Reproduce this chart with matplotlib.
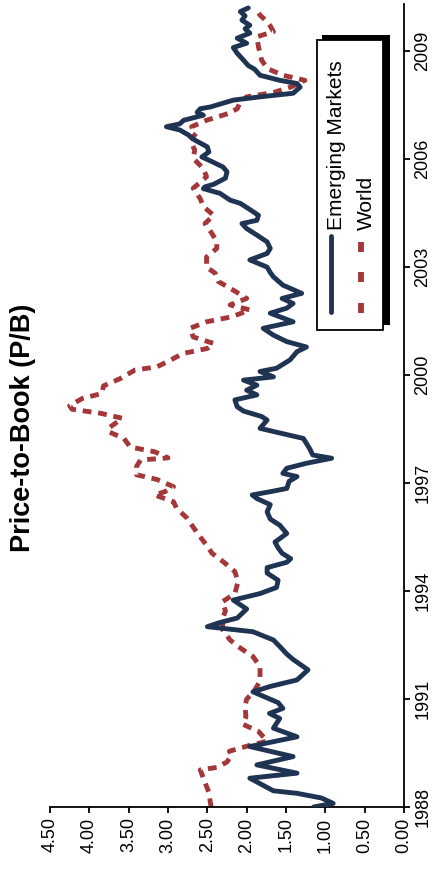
import matplotlib.pyplot as plt
from matplotlib.patches import Rectangle
from matplotlib.lines import Line2D

plt.rcParams['font.family'] = ['Liberation Sans', 'DejaVu Sans']

# Emerging Markets P/B (decimal year, value)
em_t = [1988.00, 1988.10, 1988.25, 1988.38, 1988.45, 1988.80, 1988.94, 1989.17, 1989.40, 1989.68,
        1989.95, 1990.19, 1990.46, 1990.60, 1990.74, 1990.90, 1991.20, 1991.35, 1991.53, 1991.81,
        1992.10, 1992.25, 1992.46, 1992.64, 1992.87, 1993.01, 1993.12, 1993.25, 1993.50, 1993.75,
        1993.93, 1994.10, 1994.30, 1994.50, 1994.65, 1994.80, 1994.90, 1995.05, 1995.20, 1995.36,
        1995.60, 1995.83, 1996.00, 1996.20, 1996.40, 1996.57, 1996.67, 1996.76, 1996.85, 1997.05,
        1997.18, 1997.27, 1997.41, 1997.55, 1997.69, 1997.78, 1997.96, 1998.24, 1998.52, 1998.75,
        1998.85, 1999.00, 1999.12, 1999.31, 1999.45, 1999.58, 1999.72, 1999.86, 1999.95, 2000.10,
        2000.19, 2000.42, 2000.65, 2000.78, 2000.93, 2001.11, 2001.30, 2001.48, 2001.72, 2001.86,
        2001.99, 2002.13, 2002.27, 2002.50, 2002.73, 2002.85, 2003.00, 2003.20, 2003.38, 2003.52,
        2003.70, 2003.89, 2004.07, 2004.21, 2004.30, 2004.44, 2004.60, 2004.77, 2004.86, 2005.05,
        2005.18, 2005.23, 2005.30, 2005.47, 2005.65, 2005.78, 2005.93, 2006.06, 2006.20, 2006.34,
        2006.53, 2006.67, 2006.81, 2006.90, 2006.98, 2007.08, 2007.22, 2007.30, 2007.40, 2007.45,
        2007.64, 2007.73, 2007.83, 2008.00, 2008.10, 2008.19, 2008.33, 2008.50, 2008.60, 2008.75,
        2008.94, 2009.10, 2009.22, 2009.36, 2009.50, 2009.62, 2009.72, 2009.86, 2009.98, 2010.10,
        2010.20]
em_v = [1.15, 0.90, 1.05, 1.36, 1.66, 1.96, 1.36, 1.87, 1.41, 1.96,
        1.36, 1.66, 1.58, 1.71, 1.54, 1.60, 1.92, 1.70, 1.36, 1.22,
        1.41, 1.49, 1.58, 1.66, 1.92, 2.50, 2.35, 2.12, 2.00, 2.17,
        1.83, 1.62, 1.60, 1.74, 1.74, 1.49, 1.44, 1.55, 1.60, 1.64,
        1.49, 1.58, 1.70, 1.74, 1.70, 1.87, 1.93, 1.70, 1.49, 1.46,
        1.36, 1.54, 1.49, 1.24, 0.92, 1.16, 1.20, 1.28, 1.83, 1.74,
        1.81, 2.04, 2.12, 2.15, 1.87, 2.00, 1.87, 2.04, 1.66, 1.83,
        1.62, 1.45, 1.36, 1.24, 1.49, 1.66, 1.79, 1.41, 1.70, 1.49,
        1.41, 1.55, 1.30, 1.54, 1.66, 1.70, 1.74, 1.96, 1.74, 1.70,
        1.74, 1.87, 2.00, 2.06, 1.87, 1.85, 1.96, 2.08, 2.21, 2.34,
        2.55, 2.53, 2.42, 2.27, 2.25, 2.30, 2.44, 2.57, 2.48, 2.50,
        2.66, 2.74, 2.85, 3.02, 2.85, 2.80, 2.55, 2.63, 2.59, 2.46,
        2.17, 1.83, 1.41, 1.32, 1.36, 1.58, 1.83, 1.90, 1.98, 2.04,
        2.12, 2.17, 2.00, 2.12, 1.96, 2.02, 1.96, 2.06, 2.02, 2.08,
        1.98]

# World P/B
wd_t = [1988.00, 1988.10, 1988.40, 1988.80, 1989.03, 1989.10, 1989.25, 1989.45, 1989.55, 1989.70,
        1989.83, 1990.10, 1990.30, 1990.50, 1990.80, 1991.00, 1991.20, 1991.50, 1991.90, 1992.18,
        1992.46, 1992.64, 1992.90, 1993.20, 1993.45, 1993.70, 1993.93, 1994.26, 1994.54, 1994.80,
        1995.05, 1995.33, 1995.65, 1996.03, 1996.30, 1996.48, 1996.67, 1996.76, 1996.90, 1997.10,
        1997.23, 1997.46, 1997.64, 1997.70, 1997.87, 1998.00, 1998.24, 1998.43, 1998.55, 1998.80,
        1998.94, 1999.05, 1999.15, 1999.35, 1999.49, 1999.70, 1999.90, 2000.14, 2000.23, 2000.37,
        2000.60, 2000.74, 2000.88, 2001.06, 2001.30, 2001.48, 2001.62, 2001.81, 2001.95, 2002.13,
        2002.36, 2002.60, 2002.83, 2003.00, 2003.28, 2003.52, 2003.70, 2003.93, 2004.21, 2004.44,
        2004.68, 2004.90, 2005.19, 2005.51, 2005.74, 2006.02, 2006.25, 2006.53, 2006.72, 2006.90,
        2007.08, 2007.27, 2007.40, 2007.59, 2007.73, 2007.85, 2008.01, 2008.19, 2008.33, 2008.52,
        2008.75, 2008.94, 2009.12, 2009.40, 2009.54, 2009.70, 2009.82, 2010.00, 2010.15]
wd_v = [2.45, 2.46, 2.48, 2.55, 2.59, 2.38, 2.25, 2.19, 2.22, 1.98,
        1.74, 1.85, 2.05, 2.01, 2.02, 2.00, 1.91, 1.83, 1.83, 1.92,
        2.11, 2.21, 2.30, 2.31, 2.27, 2.31, 2.15, 2.11, 2.15, 2.29,
        2.44, 2.53, 2.64, 2.76, 2.89, 2.93, 3.17, 3.04, 2.93, 3.14,
        3.40, 3.40, 3.35, 3.00, 3.17, 3.48, 3.56, 3.76, 3.74, 3.58,
        3.86, 4.22, 4.25, 4.09, 3.84, 3.82, 3.61, 3.42, 3.14, 3.01,
        2.81, 2.50, 2.42, 2.68, 2.72, 2.51, 2.19, 1.96, 2.21, 2.00,
        2.17, 2.36, 2.40, 2.51, 2.51, 2.38, 2.38, 2.44, 2.53, 2.42,
        2.55, 2.59, 2.68, 2.51, 2.55, 2.68, 2.66, 2.72, 2.64, 2.70,
        2.51, 2.23, 2.12, 2.08, 2.00, 1.66, 1.43, 1.26, 1.54, 1.74,
        1.81, 1.83, 1.85, 1.87, 1.66, 1.70, 1.74, 1.83, 1.88]

year_ticks = [1988, 1991, 1994, 1997, 2000, 2003, 2006, 2009]
value_ticks = [0.0, 0.5, 1.0, 1.5, 2.0, 2.5, 3.0, 3.5, 4.0, 4.5]

W, H = 443, 871
navy = '#1f3352'
red = '#a3373a'


def fx(x):
    return x / W


def fy(y):
    return 1 - y / H


fig = plt.figure(figsize=(W / 100, H / 100), dpi=100)
ax = fig.add_axes([fx(50), fy(807), (404 - 50) / W, (807 - 4) / H])

# chart is drawn rotated: value runs right-to-left, time bottom-to-top
ax.plot(em_v, em_t, color=navy, lw=3.5, solid_joinstyle='round', solid_capstyle='round', zorder=3)
ax.plot(wd_v, wd_t, color=red, lw=3.5, dashes=(1.8, 1.4), zorder=2)

ax.set_xlim(4.5, 0)
ax.set_ylim(1988, 2010.31)

for s in ['left', 'top']:
    ax.spines[s].set_visible(False)
for s in ['right', 'bottom']:
    ax.spines[s].set_linewidth(1.3)

ax.set_xticks(value_ticks)
ax.set_xticklabels([f"{v:.2f}" for v in value_ticks], rotation=90, fontsize=13)
ax.yaxis.tick_right()
ax.set_yticks(year_ticks)
ax.set_yticklabels([str(y) for y in year_ticks], rotation=90, va='center', fontsize=13)
ax.tick_params(axis='both', direction='out', length=4.5, width=1.3, pad=3)

fig.text(fx(23), fy(428), 'Price-to-Book (P/B)', rotation=90, fontsize=19.5,
         fontweight='bold', ha='center', va='center')

# legend box (rotated) with shadow
fig.add_artist(Rectangle((fx(322), fy(325)), 68 / W, 290 / H, transform=fig.transFigure,
                         facecolor='black', edgecolor='none', zorder=5))
fig.add_artist(Rectangle((fx(317), fy(330)), 66 / W, 290 / H, transform=fig.transFigure,
                         facecolor='white', edgecolor='black', lw=1.3, zorder=6))
fig.add_artist(Line2D([fx(331), fx(331)], [fy(236), fy(312)], transform=fig.transFigure,
                      color=navy, lw=3.5, solid_capstyle='round', zorder=7))
for y0 in [242, 272, 303]:
    fig.add_artist(Line2D([fx(361), fx(361)], [fy(y0), fy(y0 + 10)], transform=fig.transFigure,
                          color=red, lw=4.2, solid_capstyle='butt', zorder=7))
fig.text(fx(342), fy(230), 'Emerging Markets', rotation=90, rotation_mode='anchor',
         ha='left', va='baseline', fontsize=15, zorder=8)
fig.text(fx(372), fy(230), 'World', rotation=90, rotation_mode='anchor',
         ha='left', va='baseline', fontsize=15, zorder=8)

fig.savefig('out.png', dpi=100)
